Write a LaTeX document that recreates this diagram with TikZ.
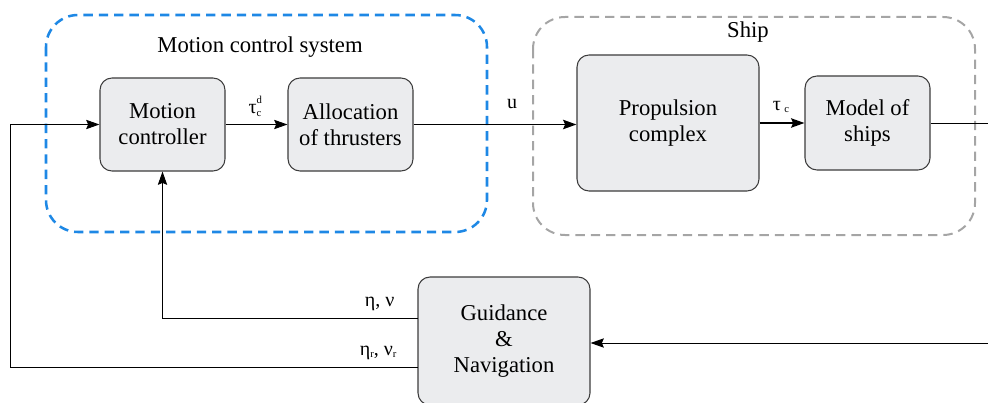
\documentclass[tikz,border=0pt]{standalone}
\usepackage{fontspec}
\setmainfont{Liberation Serif}
\usetikzlibrary{calc, arrows.meta}
\definecolor{blockfill}{RGB}{235,236,238}
\definecolor{blockline}{RGB}{60,60,60}
\definecolor{mcsblue}{RGB}{30,136,229}
\definecolor{shipgray}{RGB}{165,165,165}

\begin{document}
\begin{tikzpicture}[
    x=.75pt, y=-.75pt,
    font=\rmfamily,
    block/.style={draw=blockline, fill=blockfill, line width=.8pt,
        rounded corners=9pt, align=center, inner sep=0pt,
        font=\rmfamily\fontsize{17}{19.5}\selectfont},
    group/.style={dash pattern=on 7pt off 4.5pt, rounded corners=24pt},
    signal/.style={draw=black, line width=.75pt,
        -{Stealth[length=10pt, width=7pt, inset=1.5pt]}},
    label/.style={font=\rmfamily\fontsize{15}{17}\selectfont, inner sep=1pt},
    title/.style={font=\rmfamily\fontsize{17}{19}\selectfont, inner sep=1pt},
]
    \useasboundingbox (0, 0) rectangle (988, 403);
    \clip (0, 0) rectangle (988, 403);

    %% the two dashed groups and their titles
    \draw[group, draw=mcsblue, line width=1.9pt] (46, 15) rectangle (487, 232);
    \draw[group, draw=shipgray, line width=1.5pt] (533, 17) rectangle (975, 235);
    \node[title] (mcstitle) at (260, 47) {Motion control system};
    \node[title] (shiptitle) at (748, 32) {Ship};

    %% the blocks
    \node[block, minimum width=93.75pt, minimum height=69.75pt] (ctrl)
        at (162.5, 124.5) {Motion\\controller};
    \node[block, minimum width=93.75pt, minimum height=69.75pt] (alloc)
        at (350.5, 124.5) {Allocation\\of thrusters};
    \node[block, minimum width=136.5pt, minimum height=102pt] (prop)
        at (668, 123) {Propulsion\\complex};
    \node[block, minimum width=93.75pt, minimum height=70.5pt] (model)
        at (867.5, 123) {Model of\\ships};
    \node[block, minimum width=129pt, minimum height=96pt] (guide)
        at (504, 341) {Guidance\\\&\\Navigation};

    %% free ends of the loop
    \coordinate (out) at (988, 123);
    \coordinate (in) at (988, 343);
    \coordinate (eta) at (418, 318);
    \coordinate (etar) at (418, 367);
    \coordinate (corner) at (10, 367);

    %% forward path
    \draw[signal] (ctrl.east) -- (alloc.west);
    \draw[signal, line width=1.4pt] (alloc.east) -- (alloc.east -| prop.west);
    \draw[signal, line width=1.4pt] (prop.east) -- (prop.east -| model.west);
    \draw[line width=.6pt] (model.east) -- (out);

    %% feedback
    \draw[signal] (in) -- (in -| guide.east);
    \draw[signal] (eta) -| (ctrl.south);
    \draw[signal] (etar) -- (corner) |- (ctrl.west);

    %% signal labels
    \node[label] (taucd) at (255, 106)
        {τ\makebox[0pt][l]{\raisebox{1.1ex}{\fontsize{8}{8}\selectfont d}}%
        \raisebox{-.3ex}{\fontsize{8}{8}\selectfont c}};
    \node[label] (ulabel) at (512, 104) {u};
    \node[label] (tauc) at (781, 107)
        {τ\,\raisebox{-.3ex}{\fontsize{8}{8}\selectfont c}};
    \node[label, anchor=south east] (etalabel) at (396, 312) {η, ν};
    \node[label, anchor=south east] (etarlabel) at (398, 361)
        {η\raisebox{-.3ex}{\fontsize{8}{8}\selectfont r},
        ν\raisebox{-.3ex}{\fontsize{8}{8}\selectfont r}};
\end{tikzpicture}
\end{document}
